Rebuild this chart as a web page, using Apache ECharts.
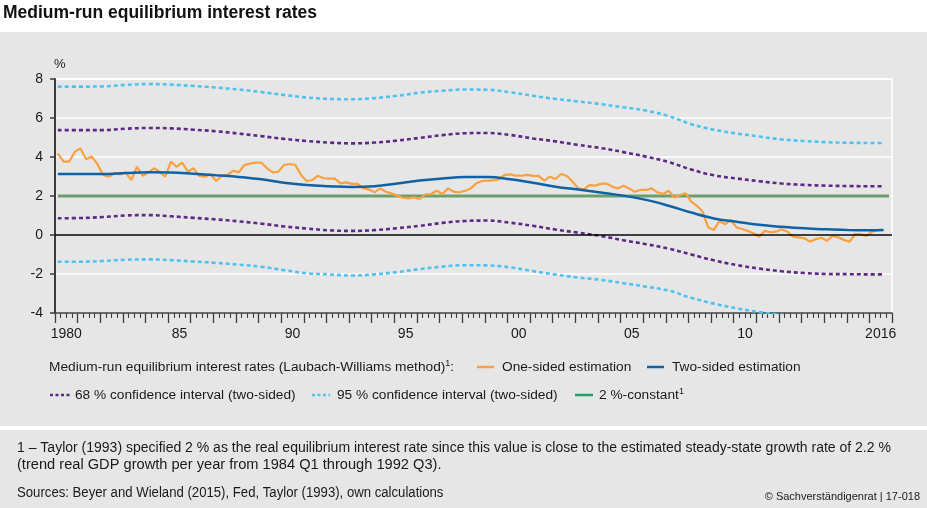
<!DOCTYPE html>
<html><head><meta charset="utf-8">
<script src="https://cdn.jsdelivr.net/npm/echarts@6/dist/echarts.min.js"></script>
<style>html,body{margin:0;padding:0;background:#fff}#c{width:927px;height:508px}</style>
</head><body><div id="c"></div>
<script>
// ---- data ----
const firstYear = 1980;
const lastYear = 2016;
const yTicks = [-4, -2, 0, 2, 4, 6, 8];
const xLabelYears = {1980:'1980',1985:'85',1990:'90',1995:'95',2000:'00',2005:'05',2010:'10',2016:'2016'};
const constantRate = 2;
// one-sided estimation, quarterly from 1980 Q1
const oneSided = [4.19,3.76,3.76,4.27,4.44,3.90,4.02,3.64,3.08,2.99,3.16,3.11,3.20,2.82,3.50,3.04,
3.20,3.42,3.25,2.99,3.76,3.50,3.71,3.25,3.42,3.03,2.99,3.11,2.77,3.03,3.08,3.30,
3.21,3.59,3.66,3.71,3.71,3.42,3.21,3.25,3.59,3.64,3.59,3.08,2.77,2.82,3.04,2.91,
2.89,2.89,2.65,2.70,2.62,2.62,2.39,2.34,2.19,2.39,2.22,2.14,2.02,1.91,1.88,1.93,
1.85,2.09,2.10,2.27,2.10,2.39,2.22,2.19,2.26,2.39,2.65,2.77,2.79,2.80,2.85,3.08,
3.11,3.04,3.04,3.08,3.03,3.03,2.79,2.99,2.87,3.13,3.03,2.74,2.39,2.34,2.56,2.53,
2.62,2.65,2.48,2.39,2.53,2.39,2.22,2.31,2.31,2.39,2.19,2.10,2.27,1.93,2.05,2.14,
1.71,1.50,1.20,0.39,0.26,0.72,0.55,0.77,0.39,0.31,0.21,0.09,-0.09,0.21,0.14,0.17,
0.29,0.17,-0.09,-0.12,-0.17,-0.34,-0.22,-0.14,-0.29,-0.05,-0.12,-0.26,-0.34,0.05,0.03,-0.05,
0.17,0.26,0.26];
// annual readings (Q1 of each year) plus last quarter
const twoSided  = [3.13,3.13,3.13,3.18,3.22,3.21,3.14,3.06,2.98,2.86,2.68,2.56,2.50,2.46,2.50,2.64,2.79,2.90,2.97,2.97,2.86,2.68,2.48,2.33,2.18,2.02,1.80,1.50,1.15,0.85,0.68,0.52,0.42,0.34,0.29,0.25,0.24,0.26];
const ci68Upper = [5.38,5.38,5.38,5.45,5.49,5.47,5.40,5.32,5.20,5.07,4.93,4.82,4.74,4.70,4.74,4.84,4.98,5.12,5.22,5.23,5.13,4.95,4.80,4.62,4.46,4.25,4.02,3.74,3.36,3.06,2.90,2.76,2.64,2.57,2.53,2.51,2.50,2.50];
const ci68Lower = [0.86,0.87,0.92,1.00,1.02,0.96,0.88,0.80,0.70,0.58,0.44,0.33,0.24,0.21,0.25,0.35,0.47,0.62,0.72,0.74,0.63,0.47,0.28,0.12,-0.05,-0.27,-0.47,-0.70,-1.00,-1.30,-1.54,-1.72,-1.86,-1.95,-2.00,-2.01,-2.02,-2.02];
const ci95Upper = [7.61,7.61,7.62,7.70,7.74,7.71,7.64,7.56,7.46,7.33,7.18,7.05,6.98,6.96,7.02,7.14,7.30,7.40,7.46,7.45,7.32,7.14,6.98,6.85,6.71,6.55,6.38,6.10,5.68,5.40,5.21,5.05,4.90,4.82,4.76,4.73,4.72,4.72];
const ci95Lower = [-1.37,-1.37,-1.33,-1.27,-1.25,-1.29,-1.36,-1.43,-1.52,-1.63,-1.80,-1.96,-2.02,-2.08,-2.02,-1.90,-1.75,-1.62,-1.55,-1.56,-1.66,-1.85,-2.03,-2.18,-2.30,-2.47,-2.65,-2.85,-3.22,-3.52,-3.76,-3.95,-4.10,-4.17,-4.21,-4.23,-4.24,-4.24];

// ---- build ----
const years = [];
for (let y = firstYear; y <= lastYear; y++) years.push(y);
const quarterX = i => firstYear + (i + 0.5) / 4;
const annualX = years.map(y => y + 0.125).concat([lastYear + 0.625]);
const pairs = (xs, vs) => vs.map((v, i) => [xs[i], v]);
const oneSidedData = oneSided.map((v, i) => [quarterX(i), v]);

const C = {
  orange: '#f9a03f', blue: '#0f62a6', purple: '#5c2a86', cyan: '#4fc2ef',
  green: '#6c9e6b', greenLegend: '#23a170', axis: '#3c3c3c', text: '#1a1a1a', panel: '#e6e6e6'
};
const FONT = '"Liberation Sans", Arial, sans-serif';
const LEG = 13.7;

const chart = echarts.init(document.getElementById('c'), null, {renderer: 'canvas'});

function ciSeries(name, vals, color) {
  return {
    name, type: 'line', data: pairs(annualX, vals), smooth: 0.4, showSymbol: false, symbol: 'none',
    lineStyle: {color, width: 2.6, type: [4, 3]}, z: 3, silent: true
  };
}
const legY1 = 367, legY2 = 395;
const txt = (x, y, text, extra, sx) => ({
  type: 'text', x, y, z: 10, scaleX: sx || 1,
  style: Object.assign({text, fontFamily: FONT, fontSize: LEG, fill: C.text, verticalAlign: 'middle'}, extra || {})
});
const seg = (x1, x2, y, stroke, dash, w) => ({
  type: 'line', z: 10, shape: {x1, y1: y, x2, y2: y},
  style: {stroke, lineWidth: w || 2.5, lineDash: dash || null}
});
const supRich = {
  a: {fontFamily: FONT, fontSize: LEG, fill: C.text},
  s: {fontFamily: FONT, fontSize: 9, fill: C.text, padding: [0, 0, 7, 0]}
};

chart.setOption({
  animation: false,
  backgroundColor: '#fff',
  grid: {left: 55, right: 35, top: 79, bottom: 195, show: true, borderColor: '#ffffff', borderWidth: 1.5, backgroundColor: 'transparent'},
  graphic: [
    {type: 'rect', z: -10, shape: {x: 0, y: 32, width: 927, height: 394}, style: {fill: C.panel}},
    {type: 'rect', z: -10, shape: {x: 0, y: 430, width: 927, height: 78}, style: {fill: C.panel}},
    txt(3, 13, 'Medium-run equilibrium interest rates', {fontSize: 17.5, fontWeight: 'bold', fill: '#111'}),
    txt(54, 64, '%', {fontSize: 13}),
    // legend row 1
    {type: 'text', x: 49, y: legY1, z: 10, style: {text: '{a|Medium-run equilibrium interest rates (Laubach-Williams method)}{s|1}{a|:}', rich: supRich, verticalAlign: 'middle'}},
    seg(477, 494, legY1, C.orange),
    txt(502, legY1, 'One-sided estimation'),
    seg(647, 664, legY1, C.blue),
    txt(672, legY1, 'Two-sided estimation'),
    // legend row 2
    seg(50, 70, legY2, C.purple, [3, 2.5]),
    txt(75, legY2, '68 % confidence interval (two-sided)'),
    seg(312, 330, legY2, C.cyan, [3, 2.5]),
    txt(337, legY2, '95 % confidence interval (two-sided)'),
    seg(575, 593, legY2, C.greenLegend),
    {type: 'text', x: 599, y: legY2, z: 10, style: {text: '{a|2 %-constant}{s|1}', rich: supRich, verticalAlign: 'middle'}},
    // footnotes
    txt(17, 448, '1 – Taylor (1993) specified 2 % as the real equilibrium interest rate since this value is close to the estimated steady-state growth rate of 2.2 %', {fontSize: 14}),
    txt(17, 465, '(trend real GDP growth per year from 1984 Q1 through 1992 Q3).', {fontSize: 14}, 1.045),
    txt(17, 493, 'Sources: Beyer and Wieland (2015), Fed, Taylor (1993), own calculations', {fontSize: 14}, 0.94),
    txt(920, 497, '© Sachverständigenrat | 17-018', {fontSize: 11, align: 'right'})
  ],
  xAxis: [
    {
      type: 'value', min: firstYear, max: lastYear + 1, interval: 1,
      axisLine: {show: true, onZero: false, lineStyle: {color: C.axis, width: 1.5}},
      axisTick: {show: true, length: 10, lineStyle: {color: C.axis, width: 1.3}},
      minorTick: {show: true, splitNumber: 4, length: 5, lineStyle: {color: C.axis, width: 1.1}},
      axisLabel: {show: false}, splitLine: {show: false}
    },
    {
      type: 'category', data: years.map(String), boundaryGap: true, position: 'bottom',
      axisLine: {show: false}, axisTick: {show: false}, splitLine: {show: false},
      axisLabel: {interval: 0, margin: 14, fontFamily: FONT, fontSize: 14, color: C.text,
        formatter: v => xLabelYears[v] || ''}
    }
  ],
  yAxis: {
    type: 'value', min: yTicks[0], max: yTicks[yTicks.length - 1], interval: 2,
    axisLine: {show: true, onZero: false, lineStyle: {color: C.axis, width: 2}},
    axisTick: {show: true, length: 5, lineStyle: {color: C.axis, width: 1.5}},
    axisLabel: {margin: 12, fontFamily: FONT, fontSize: 14, color: C.text},
    splitLine: {show: true, lineStyle: {color: '#ffffff', width: 1.5}}
  },
  series: [
    {
      name: '2 %-constant', type: 'line', data: [[quarterX(0), constantRate], [quarterX(years.length * 4 - 1), constantRate]],
      showSymbol: false, symbol: 'none', lineStyle: {color: C.green, width: 3}, z: 2, silent: true,
      markLine: {silent: true, symbol: 'none', label: {show: false}, lineStyle: {color: '#000', width: 1.5, type: 'solid'}, data: [{yAxis: 0}]}
    },
    ciSeries('95 % upper', ci95Upper, C.cyan),
    ciSeries('95 % lower', ci95Lower, C.cyan),
    ciSeries('68 % upper', ci68Upper, C.purple),
    ciSeries('68 % lower', ci68Lower, C.purple),
    {name: 'One-sided estimation', type: 'line', data: oneSidedData, showSymbol: false, symbol: 'none',
      lineStyle: {color: C.orange, width: 2.2}, z: 4, silent: true},
    {name: 'Two-sided estimation', type: 'line', data: pairs(annualX, twoSided), smooth: 0.4, showSymbol: false, symbol: 'none',
      lineStyle: {color: C.blue, width: 2.5}, z: 5, silent: true}
  ]
});
</script></body></html>
